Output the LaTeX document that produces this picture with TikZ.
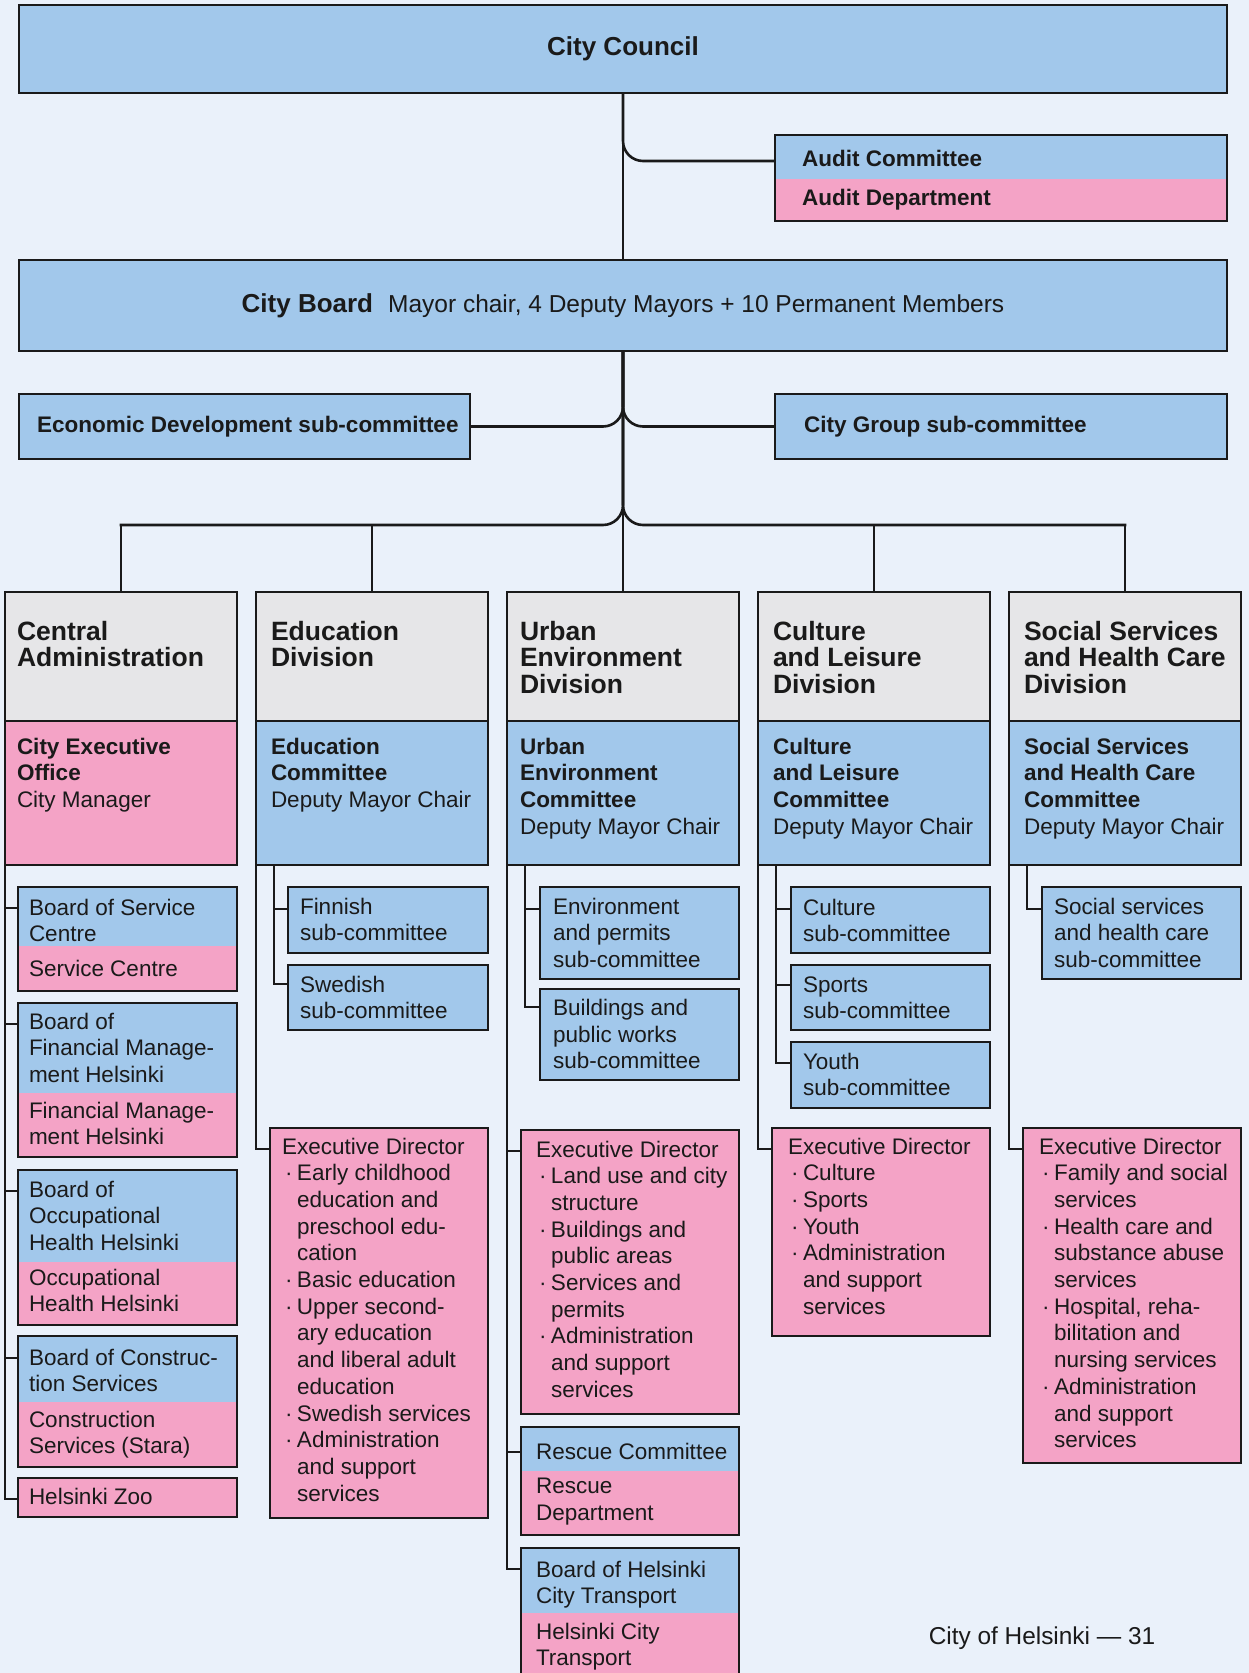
\documentclass[tikz,border=0pt]{standalone}
\usepackage{fontspec}
\setmainfont{Liberation Sans}
\usetikzlibrary{calc}
\definecolor{bg}{HTML}{EAF1FA}
\definecolor{bl}{HTML}{A2C8EB}
\definecolor{pk}{HTML}{F4A3C6}
\definecolor{gy}{HTML}{E6E6E8}
\definecolor{lc}{HTML}{1A1A1A}
\pgfdeclarelayer{bglayer}
\pgfdeclarelayer{connlayer}
\pgfsetlayers{bglayer,connlayer,main}
\newcommand{\myrA}{\rule{0pt}{18pt}}
\newcommand{\myrH}{\rule{0pt}{21pt}}
\newcommand{\myb}{\makebox[15pt][l]{\hspace{3pt}·}}
\newcommand{\myi}{\hspace*{15pt}}
\newcommand{\bodysz}{\fontsize{22.5}{26.7}\selectfont}
\newcommand{\headsz}{\fontsize{26.5}{26.7}\selectfont\bfseries}
\tikzset{
 boxd/.style={draw=lc, line width=1.5pt, inner sep=0pt, outer sep=0pt, anchor=north west},
 fl/.style={inner sep=0pt, outer sep=0pt, anchor=north west, draw=none},
 tx/.style={anchor=north west, inner sep=0pt, outer sep=0pt, align=left, font=\bodysz, text=lc},
 hx/.style={anchor=north west, inner sep=0pt, outer sep=0pt, align=left, font=\headsz, text=lc},
 mainc/.style={draw=lc, line width=2.6pt, line cap=rect},
 thinc/.style={draw=lc, line width=1.4pt, line cap=rect},
 ol/.style={draw=lc, line width=1.5pt},
}
\begin{document}
\begin{tikzpicture}[x=1pt, y=-1pt]
\useasboundingbox (0,0) rectangle (1249,1673);
\begin{pgfonlayer}{bglayer}
\fill[bg] (0,0) rectangle (1249,1673);
\end{pgfonlayer}

% ---------- top level ----------
\node[boxd, fill=bl, minimum width=1208pt, minimum height=88pt] (cc) at (19,5) {};
\node[font=\fontsize{26}{30}\selectfont\bfseries, text=lc] (t-cc) at (cc.center) {City Council};

\node[fl, fill=bl, minimum width=452pt, minimum height=44pt] (audA) at (775,135) {};
\node[fl, fill=pk, minimum width=452pt, minimum height=42pt] (audB) at (775,179) {};
\draw[ol] (audA.north west) rectangle (audB.south east);
\node[anchor=west, inner sep=0pt, font=\bodysz\bfseries, text=lc] (t-audA) at (802,158) {Audit Committee};
\node[anchor=west, inner sep=0pt, font=\bodysz\bfseries, text=lc] (t-audB) at (802,200) {Audit Department};

\node[boxd, fill=bl, minimum width=1208pt, minimum height=91pt] (cb) at (19,260) {};
\node[font=\fontsize{24.5}{30}\selectfont, text=lc] (t-cb) at (cb.center) {{\fontsize{26}{30}\selectfont\bfseries City Board}\hspace{15pt}Mayor chair, 4 Deputy Mayors + 10 Permanent Members};

\node[boxd, fill=bl, minimum width=451pt, minimum height=65pt] (econ) at (19,394) {};
\node[anchor=west, inner sep=0pt, font=\bodysz\bfseries, text=lc] (t-econ) at (37,427) {Economic Development sub-committee};
\node[boxd, fill=bl, minimum width=452pt, minimum height=65pt] (cg) at (775,394) {};
\node[anchor=west, inner sep=0pt, font=\bodysz\bfseries, text=lc] (t-cg) at (804,427) {City Group sub-committee};

% ---------- division columns ----------
\node[boxd, fill=gy, minimum width=232pt, minimum height=129pt] (h1) at (5,592) {};
\node[boxd, fill=gy, minimum width=232pt, minimum height=129pt] (h2) at (256,592) {};
\node[boxd, fill=gy, minimum width=232pt, minimum height=129pt] (h3) at (507,592) {};
\node[boxd, fill=gy, minimum width=232pt, minimum height=129pt] (h4) at (758,592) {};
\node[boxd, fill=gy, minimum width=232pt, minimum height=129pt] (h5) at (1009,592) {};
\node[boxd, fill=pk, minimum width=232pt, minimum height=144pt] (c1) at (5,721) {};
\node[boxd, fill=bl, minimum width=232pt, minimum height=144pt] (c2) at (256,721) {};
\node[boxd, fill=bl, minimum width=232pt, minimum height=144pt] (c3) at (507,721) {};
\node[boxd, fill=bl, minimum width=232pt, minimum height=144pt] (c4) at (758,721) {};
\node[boxd, fill=bl, minimum width=232pt, minimum height=144pt] (c5) at (1009,721) {};

\node[hx] (t-h1) at (17,619) {\myrH Central\\Administration};
\node[hx] (t-h2) at (271,619) {\myrH Education\\Division};
\node[hx] (t-h3) at (520,619) {\myrH Urban\\Environment\\Division};
\node[hx] (t-h4) at (773,619) {\myrH Culture\\and Leisure\\Division};
\node[hx] (t-h5) at (1024,619) {\myrH Social Services\\and Health Care\\Division};

\node[tx] (t-c1) at (17,736) {\myrA\textbf{City Executive}\\\textbf{Office}\\City Manager};
\node[tx] (t-c2) at (271,736) {\myrA\textbf{Education}\\\textbf{Committee}\\Deputy Mayor Chair};
\node[tx] (t-c3) at (520,736) {\myrA\textbf{Urban}\\\textbf{Environment}\\\textbf{Committee}\\Deputy Mayor Chair};
\node[tx] (t-c4) at (773,736) {\myrA\textbf{Culture}\\\textbf{and Leisure}\\\textbf{Committee}\\Deputy Mayor Chair};
\node[tx] (t-c5) at (1024,736) {\myrA\textbf{Social Services}\\\textbf{and Health Care}\\\textbf{Committee}\\Deputy Mayor Chair};

% ---------- column 1 ----------
\node[fl, fill=bl, minimum width=219pt, minimum height=59pt] (bscA) at (18,887) {};
\node[fl, fill=pk, minimum width=219pt, minimum height=45pt] (bscB) at (18,946) {};
\draw[ol] (bscA.north west) rectangle (bscB.south east);
\node[tx] (t-bscA) at (29,897) {\myrA Board of Service\\Centre};
\node[tx] (t-bscB) at (29,958) {\myrA Service Centre};

\node[fl, fill=bl, minimum width=219pt, minimum height=90pt] (bfmA) at (18,1003) {};
\node[fl, fill=pk, minimum width=219pt, minimum height=64pt] (bfmB) at (18,1093) {};
\draw[ol] (bfmA.north west) rectangle (bfmB.south east);
\node[tx] (t-bfmA) at (29,1011) {\myrA Board of\\Financial Manage-\\ment Helsinki};
\node[tx] (t-bfmB) at (29,1100) {\myrA Financial Manage-\\ment Helsinki};

\node[fl, fill=bl, minimum width=219pt, minimum height=92pt] (bohA) at (18,1170) {};
\node[fl, fill=pk, minimum width=219pt, minimum height=63pt] (bohB) at (18,1262) {};
\draw[ol] (bohA.north west) rectangle (bohB.south east);
\node[tx] (t-bohA) at (29,1179) {\myrA Board of\\Occupational\\Health Helsinki};
\node[tx] (t-bohB) at (29,1267) {\myrA Occupational\\Health Helsinki};

\node[fl, fill=bl, minimum width=219pt, minimum height=66pt] (bcsA) at (18,1336) {};
\node[fl, fill=pk, minimum width=219pt, minimum height=65pt] (bcsB) at (18,1402) {};
\draw[ol] (bcsA.north west) rectangle (bcsB.south east);
\node[tx] (t-bcsA) at (29,1347) {\myrA Board of Construc-\\tion Services};
\node[tx] (t-bcsB) at (29,1409) {\myrA Construction\\Services (Stara)};

\node[boxd, fill=pk, minimum width=219pt, minimum height=39pt] (zoo) at (18,1478) {};
\node[tx] (t-zoo) at (29,1486) {\myrA Helsinki Zoo};

% ---------- column 2 ----------
\node[boxd, fill=bl, minimum width=200pt, minimum height=66pt] (fin) at (288,887) {};
\node[tx] (t-fin) at (300,896) {\myrA Finnish\\sub-committee};
\node[boxd, fill=bl, minimum width=200pt, minimum height=65pt] (swe) at (288,965) {};
\node[tx] (t-swe) at (300,974) {\myrA Swedish\\sub-committee};
\node[boxd, fill=pk, minimum width=218pt, minimum height=390pt] (ex2) at (270,1128) {};
\node[tx] (t-ex2) at (282,1136) {\myrA Executive Director\\\myb Early childhood\\\myi education and\\\myi preschool edu-\\\myi cation\\\myb Basic education\\\myb Upper second-\\\myi ary education\\\myi and liberal adult\\\myi education\\\myb Swedish services\\\myb Administration\\\myi and support\\\myi services};

% ---------- column 3 ----------
\node[boxd, fill=bl, minimum width=199pt, minimum height=92pt] (env) at (540,887) {};
\node[tx] (t-env) at (553,896) {\myrA Environment\\and permits\\sub-committee};
\node[boxd, fill=bl, minimum width=199pt, minimum height=91pt] (bpw) at (540,989) {};
\node[tx] (t-bpw) at (553,997.5) {\myrA Buildings and\\public works\\sub-committee};
\node[boxd, fill=pk, minimum width=218pt, minimum height=284pt] (ex3) at (521,1130) {};
\node[tx] (t-ex3) at (536,1139) {\myrA Executive Director\\\myb Land use and city\\\myi structure\\\myb Buildings and\\\myi public areas\\\myb Services and\\\myi permits\\\myb Administration\\\myi and support\\\myi services};

\node[fl, fill=bl, minimum width=218pt, minimum height=44pt] (resA) at (521,1427) {};
\node[fl, fill=pk, minimum width=218pt, minimum height=64pt] (resB) at (521,1471) {};
\draw[ol] (resA.north west) rectangle (resB.south east);
\node[tx] (t-resA) at (536,1441) {\myrA Rescue Committee};
\node[tx] (t-resB) at (536,1475.5) {\myrA Rescue\\Department};

\node[fl, fill=bl, minimum width=218pt, minimum height=65pt] (hctA) at (521,1548) {};
\node[fl, fill=pk, minimum width=218pt, minimum height=80pt] (hctB) at (521,1613) {};
\draw[ol] (hctA.north west) rectangle (hctB.south east);
\node[tx] (t-hctA) at (536,1559) {\myrA Board of Helsinki\\City Transport};
\node[tx] (t-hctB) at (536,1621) {\myrA Helsinki City\\Transport};

% ---------- column 4 ----------
\node[boxd, fill=bl, minimum width=199pt, minimum height=66pt] (cul) at (791,887) {};
\node[tx] (t-cul) at (803,897) {\myrA Culture\\sub-committee};
\node[boxd, fill=bl, minimum width=199pt, minimum height=65pt] (spo) at (791,965) {};
\node[tx] (t-spo) at (803,974) {\myrA Sports\\sub-committee};
\node[boxd, fill=bl, minimum width=199pt, minimum height=66pt] (you) at (791,1042) {};
\node[tx] (t-you) at (803,1051) {\myrA Youth\\sub-committee};
\node[boxd, fill=pk, minimum width=218pt, minimum height=208pt] (ex4) at (772,1128) {};
\node[tx] (t-ex4) at (788,1136) {\myrA Executive Director\\\myb Culture\\\myb Sports\\\myb Youth\\\myb Administration\\\myi and support\\\myi services};

% ---------- column 5 ----------
\node[boxd, fill=bl, minimum width=199pt, minimum height=92pt] (soc) at (1042,887) {};
\node[tx] (t-soc) at (1054,896) {\myrA Social services\\and health care\\sub-committee};
\node[boxd, fill=pk, minimum width=218pt, minimum height=335pt] (ex5) at (1023,1128) {};
\node[tx] (t-ex5) at (1039,1136) {\myrA Executive Director\\\myb Family and social\\\myi services\\\myb Health care and\\\myi substance abuse\\\myi services\\\myb Hospital, reha-\\\myi bilitation and\\\myi nursing services\\\myb Administration\\\myi and support\\\myi services};

% ---------- footer ----------
\node[font=\fontsize{24.4}{28}\selectfont, text=lc] (foot) at (1042,1638) {City of Helsinki — 31};

% ---------- connectors ----------
\begin{pgfonlayer}{connlayer}
\draw[mainc] (cc.south) -- (cb.north);
\draw[mainc, rounded corners=20pt] (cc.south) |- ([yshift=-4pt]audA.west);
\draw[mainc] (cb.south) -- (h3.north);
\draw[mainc, rounded corners=20pt] (cb.south) |- (econ.east);
\draw[mainc, rounded corners=20pt] (cb.south) |- (cg.west);
\coordinate (busL) at (h1.north |- 0,525);
\coordinate (busR) at (h5.north |- 0,525);
\draw[mainc, rounded corners=20pt] (cb.south) |- (busL);
\draw[mainc, rounded corners=20pt] (cb.south) |- (busR);
\draw[mainc] (busL) -- (h1.north);
\draw[mainc] (busR) -- (h5.north);
\draw[mainc] (h2.north) -- (h2.north |- busL);
\draw[mainc] (h4.north) -- (h4.north |- busL);

% column 1
\coordinate (k1) at (c1.south west);
\draw[thinc] (k1) |- ([yshift=-21pt]bscA.north west);
\draw[thinc] (k1) |- ([yshift=-21pt]bfmA.north west);
\draw[thinc] (k1) |- ([yshift=-21pt]bohA.north west);
\draw[thinc] (k1) |- ([yshift=-22pt]bcsA.north west);
\draw[thinc] (k1) |- ([yshift=-21pt]zoo.north west);
% column 2
\coordinate (k2o) at (c2.south west);
\coordinate (k2i) at ([xshift=18pt]c2.south west);
\draw[thinc] (k2i) |- ([yshift=-22pt]fin.north west);
\draw[thinc] (k2i) |- ([yshift=-19pt]swe.north west);
\draw[thinc] (k2o) |- ([yshift=-21pt]ex2.north west);
% column 3
\coordinate (k3o) at (c3.south west);
\coordinate (k3i) at ([xshift=18pt]c3.south west);
\draw[thinc] (k3i) |- ([yshift=-22pt]env.north west);
\draw[thinc] (k3i) |- ([yshift=-18pt]bpw.north west);
\draw[thinc] (k3o) |- ([yshift=-21pt]ex3.north west);
\draw[thinc] (k3o) |- ([yshift=-25pt]resA.north west);
\draw[thinc] (k3o) |- ([yshift=-21pt]hctA.north west);
% column 4
\coordinate (k4o) at (c4.south west);
\coordinate (k4i) at ([xshift=18pt]c4.south west);
\draw[thinc] (k4i) |- ([yshift=-22pt]cul.north west);
\draw[thinc] (k4i) |- ([yshift=-20pt]spo.north west);
\draw[thinc] (k4i) |- ([yshift=-21pt]you.north west);
\draw[thinc] (k4o) |- ([yshift=-21pt]ex4.north west);
% column 5
\coordinate (k5o) at (c5.south west);
\coordinate (k5i) at ([xshift=18pt]c5.south west);
\draw[thinc] (k5i) |- ([yshift=-22pt]soc.north west);
\draw[thinc] (k5o) |- ([yshift=-21pt]ex5.north west);
\end{pgfonlayer}
\end{tikzpicture}
\end{document}
